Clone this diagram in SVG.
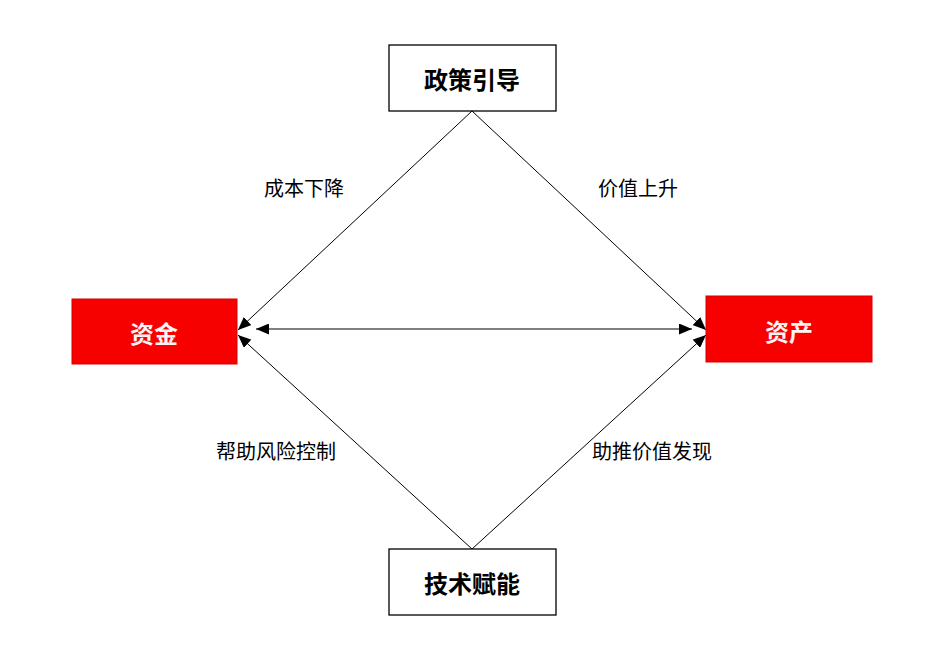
<svg xmlns="http://www.w3.org/2000/svg" width="943" height="657" viewBox="0 0 943 657">
  <style>
    .box { fill: #ffffff; stroke: #000000; stroke-width: 1.3; }
    .red { fill: #f70000; stroke: #d40000; stroke-width: 1; }
    .title { font-family: "Noto Sans CJK SC", sans-serif; font-weight: bold; font-size: 24px; fill: #000000; text-anchor: middle; dominant-baseline: central; }
    .redtitle { font-family: "Noto Sans CJK SC", serif; font-weight: bold; font-size: 24px; fill: #fff4f4; text-anchor: middle; dominant-baseline: central; }
    .label { font-family: "Noto Sans CJK SC", sans-serif; font-size: 20px; fill: #000000; text-anchor: middle; dominant-baseline: central; }
    .conn { stroke: #000000; stroke-width: 1; fill: none; }
  </style>
  <defs>
    <marker id="arrow" markerUnits="userSpaceOnUse" markerWidth="13" markerHeight="11" refX="13" refY="5.5" orient="auto-start-reverse" viewBox="0 0 13 11">
      <path d="M0,0 L13,5.5 L0,11 z" fill="#000000"/>
    </marker>
  </defs>
  <rect width="943" height="657" fill="#ffffff"/>

  <g id="connectors">
    <line class="conn" x1="472" y1="111" x2="238" y2="330" marker-end="url(#arrow)"/>
    <line class="conn" x1="472" y1="111" x2="706" y2="330" marker-end="url(#arrow)"/>
    <line class="conn" x1="472" y1="549" x2="238" y2="335" marker-end="url(#arrow)"/>
    <line class="conn" x1="472" y1="549" x2="706" y2="335" marker-end="url(#arrow)"/>
    <line class="conn" x1="256" y1="329" x2="692" y2="329" marker-start="url(#arrow)" marker-end="url(#arrow)"/>
  </g>

  <g id="node-policy">
    <rect class="box" x="389" y="45" width="167" height="66"/>
    <text class="title" x="472" y="78">政策引导</text>
  </g>
  <g id="node-tech">
    <rect class="box" x="389" y="549" width="167" height="66"/>
    <text class="title" x="472" y="582">技术赋能</text>
  </g>
  <g id="node-capital">
    <rect class="red" x="72" y="299" width="165" height="65"/>
    <text class="redtitle" x="154" y="332">资金</text>
  </g>
  <g id="node-asset">
    <rect class="red" x="706" y="296" width="166" height="66"/>
    <text class="redtitle" x="789" y="330">资产</text>
  </g>

  <g id="labels">
    <text class="label" x="304" y="187">成本下降</text>
    <text class="label" x="638" y="187">价值上升</text>
    <text class="label" x="276" y="450">帮助风险控制</text>
    <text class="label" x="652" y="450">助推价值发现</text>
  </g>
</svg>
